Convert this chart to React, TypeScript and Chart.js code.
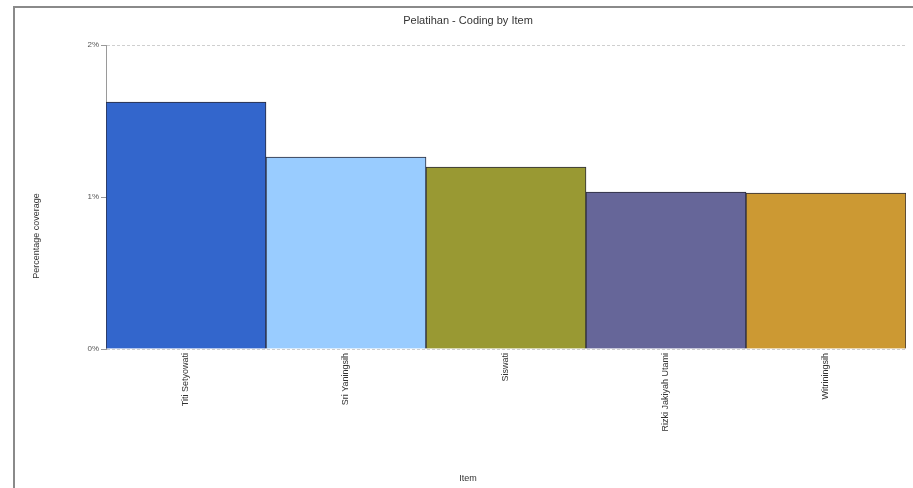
import React, { useEffect, useRef } from "react";
import { Chart, registerables } from "chart.js";

Chart.register(...registerables);

const chartTitle = "Pelatihan - Coding by Item";
const xTitle = "Item";
const yTitle = "Percentage coverage";
const categories = ["Titi Setyowati", "Sri Yaningsih", "Siswati", "Rizki Jakiyah Utami", "Witriningsih"];
const coverage = [1.625, 1.263, 1.197, 1.033, 1.026];
const barColors = ["#3366CC", "#99CCFF", "#999933", "#666699", "#CC9933"];
const yTicks = [0, 1, 2];

const decor = {
  id: "decor",
  beforeDraw(chart: any) {
    const ctx = chart.ctx;
    ctx.save();
    ctx.fillStyle = "#ffffff";
    ctx.fillRect(0, 0, chart.width, chart.height);
    ctx.strokeStyle = "#8a8a8a";
    ctx.lineWidth = 2;
    ctx.beginPath();
    ctx.moveTo(14, chart.height + 5);
    ctx.lineTo(14, 7);
    ctx.lineTo(chart.width + 5, 7);
    ctx.stroke();
    ctx.restore();
  },
  afterDraw(chart: any) {
    const ctx = chart.ctx;
    ctx.save();
    ctx.fillStyle = "#333333";
    ctx.textAlign = "center";
    ctx.textBaseline = "middle";
    ctx.font = "11px 'Liberation Sans', Arial, sans-serif";
    ctx.fillText(chartTitle, 468, 21);
    ctx.font = "9px 'Liberation Sans', Arial, sans-serif";
    ctx.fillText(xTitle, 468, 479);
    ctx.translate(37, 236);
    ctx.rotate(-Math.PI / 2);
    ctx.fillText(yTitle, 0, 0);
    ctx.restore();
  },
};

export default function App() {
  const ref = useRef<HTMLCanvasElement>(null);
  useEffect(() => {
    if (!ref.current) return;
    const chart = new Chart(ref.current, {
      type: "bar",
      data: {
        labels: categories,
        datasets: [
          {
            data: coverage,
            backgroundColor: barColors,
            borderColor: "#2b2b3a",
            borderWidth: 1,
            categoryPercentage: 1,
            barPercentage: 1,
          },
        ],
      },
      options: {
        animation: false,
        responsive: false,
        maintainAspectRatio: false,
        layout: { padding: { left: 0, top: 45, right: 7, bottom: 0 } },
        plugins: { legend: { display: false }, tooltip: { enabled: false }, title: { display: false } },
        scales: {
          x: {
            grid: { display: false },
            border: { display: false },
            ticks: {
              maxRotation: 90,
              minRotation: 90,
              autoSkip: false,
              padding: -4,
              color: "#333333",
              font: { size: 9, family: "'Liberation Sans', Arial, sans-serif" },
            },
            afterFit(scale: any) {
              scale.height = 139;
            },
          },
          y: {
            min: 0,
            max: 2,
            afterBuildTicks(scale: any) {
              scale.ticks = yTicks.map((v) => ({ value: v }));
            },
            grid: {
              color: "#cfcfcf",
              drawTicks: true,
              tickLength: 5,
              tickColor: "#999999",
            },
            border: { display: true, color: "#9a9a9a", width: 1, dash: [3, 2] },
            ticks: {
              padding: 2,
              color: "#555555",
              font: { size: 8, family: "'Liberation Sans', Arial, sans-serif" },
              callback: (v: any) => v + "%",
            },
            afterFit(scale: any) {
              scale.width = 106;
            },
          },
        },
      },
      plugins: [decor],
    });
    return () => chart.destroy();
  }, []);
  return (
    <div style={{ position: "fixed", left: 0, top: 0, width: 913, height: 488, background: "#fff" }}>
      <canvas ref={ref} width={913} height={488} style={{ width: 913, height: 488, display: "block" }} />
    </div>
  );
}
